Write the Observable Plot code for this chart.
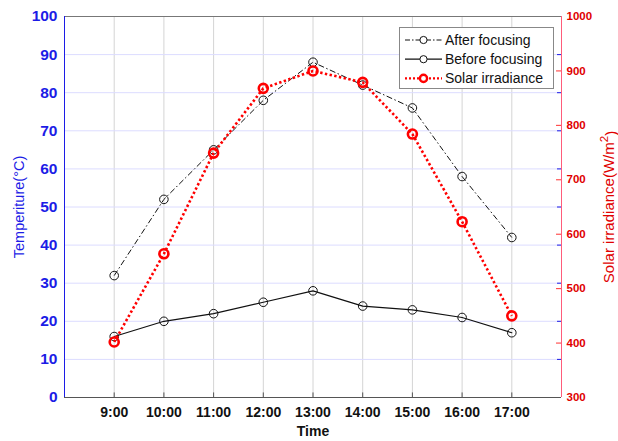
<!DOCTYPE html>
<html><head><meta charset="utf-8">
<script src="https://cdn.jsdelivr.net/npm/d3@7"></script>
<script src="https://cdn.jsdelivr.net/npm/@observablehq/plot@0.6"></script>
<style>
body{margin:0;background:#fff;font-family:"Liberation Sans",Arial,sans-serif}
#wrap{position:relative;width:618px;height:441px}
#legend{position:absolute;left:0;top:0}
</style></head>
<body><div id="wrap"></div>
<script>
const hours = [9, 10, 11, 12, 13, 14, 15, 16, 17];
const timeLabels = ["9:00","10:00","11:00","12:00","13:00","14:00","15:00","16:00","17:00"];
const afterFocusing = [32, 52, 65, 78, 88, 82, 76, 58, 42];
const beforeFocusing = [16, 20, 22, 25, 28, 24, 23, 21, 17];
const solarIrradiance = [402, 564, 749, 868, 900, 879, 784, 623, 450];
const tempTicks = [0,10,20,30,40,50,60,70,80,90,100];
const irrTicks = [300,400,500,600,700,800,900,1000];

const BLUE = "#1c1ce6", RED = "#e00000";
// map irradiance (300..1000) onto the temperature scale (0..100)
const toT = v => (v - 300) / 7;

const after = hours.map((h,i)=>({h, v: afterFocusing[i]}));
const before = hours.map((h,i)=>({h, v: beforeFocusing[i]}));
const solar = hours.map((h,i)=>({h, v: toT(solarIrradiance[i])}));

const chart = Plot.plot({
  width: 618, height: 441,
  marginLeft: 64, marginRight: 57, marginTop: 16, marginBottom: 44,
  style: {fontFamily: '"Liberation Sans", Arial, sans-serif', background: "#fff"},
  x: {domain: [8, 18]},
  y: {domain: [0, 100]},
  marks: [
    Plot.gridX(hours, {stroke: "#d4d4d4", strokeOpacity: 1}),
    Plot.gridY(tempTicks, {stroke: "#dcdcff", strokeOpacity: 1}),
    // frame
    Plot.ruleY([100], {stroke: "#777", strokeWidth: 1}),
    Plot.ruleY([0], {stroke: "#555", strokeWidth: 1}),
    Plot.ruleX([8], {stroke: BLUE, strokeWidth: 1}),
    Plot.ruleX([18], {stroke: "#ff5c7a", strokeWidth: 1}),
    // inward bottom ticks
    Plot.ruleX(hours, {y1: 0, y2: 1.2, stroke: "#555"}),
    // right-side inward ticks
    Plot.ruleY(tempTicks.slice(1,-1), {x1: 17.92, x2: 18, stroke: BLUE}),
    Plot.ruleY(irrTicks.slice(1,-1).map(toT), {x1: 17.9, x2: 18, stroke: "#ff3030"}),
    Plot.axisX(hours, {anchor: "bottom", tickSize: 0, tickPadding: 10, fontSize: 14, fontWeight: "bold", fill: "#111", tickFormat: (d) => timeLabels[hours.indexOf(d)], label: null}),
    Plot.axisY(tempTicks, {anchor: "left", tickSize: 0, tickPadding: 7, fontSize: 15.5, fontWeight: "bold", fill: BLUE, label: null, tickFormat: d => String(d)}),
    Plot.axisY(irrTicks.map(toT), {anchor: "right", tickSize: 0, tickPadding: 5, fontSize: 11.5, fontWeight: "bold", fill: RED, label: null, tickFormat: d => String(Math.round(d*7+300))}),
    Plot.text(["Time"], {frameAnchor: "bottom", dy: 38, fontSize: 14, fontWeight: "bold", fill: "#111"}),
    Plot.text(["Temperiture(°C)"], {frameAnchor: "left", textAnchor: "middle", rotate: -90, dx: -45, dy: 0, fontSize: 14.5, fill: BLUE}),
    Plot.text(["Solar irradiance(W/m2)"], {frameAnchor: "right", textAnchor: "middle", rotate: -90, dx: 48, dy: 0, fontSize: 15, fill: RED, className: "irrlabel"}),
    // series
    Plot.line(after, {x: "h", y: "v", stroke: "#111", strokeWidth: 1, strokeDasharray: "6,2.5,1.5,2.5", strokeLinecap: "butt"}),
    Plot.dot(after, {x: "h", y: "v", r: 4.3, stroke: "#111", strokeWidth: 1, fill: "none"}),
    Plot.line(before, {x: "h", y: "v", stroke: "#111", strokeWidth: 1.2}),
    Plot.dot(before, {x: "h", y: "v", r: 4.3, stroke: "#111", strokeWidth: 1, fill: "none"}),
    Plot.line(solar, {x: "h", y: "v", stroke: "#ff0000", strokeWidth: 2.6, strokeDasharray: "2.4,2.4", strokeLinecap: "butt"}),
    Plot.dot(solar, {x: "h", y: "v", r: 4.5, stroke: "#ff0000", strokeWidth: 2.6, fill: "none"})
  ]
});
const wrap = document.getElementById("wrap");
wrap.appendChild(chart);

// superscript 2 in the right axis label
d3.select(chart).selectAll("text").filter(function(){ return this.textContent === "Solar irradiance(W/m2)"; })
  .each(function(){
    const t = d3.select(this);
    t.text(null);
    t.append("tspan").text("Solar irradiance(W/m");
    t.append("tspan").attr("dy", "-0.55em").attr("font-size", "11.5").text("2");
    t.append("tspan").attr("dy", "0.55em").text(")");
  });

// legend overlay
const legendItems = [
  {label: "After focusing", stroke: "#111", w: 1, dash: "5,2,1.5,2", cw: 1},
  {label: "Before focusing", stroke: "#111", w: 1.2, dash: null, cw: 1},
  {label: "Solar irradiance", stroke: "#ff0000", w: 2.4, dash: "2,2", cw: 2.4}
];
const ns = "http://www.w3.org/2000/svg";
const lg = document.createElementNS(ns, "svg");
lg.setAttribute("id", "legend");
lg.setAttribute("width", 618); lg.setAttribute("height", 441);
lg.style.pointerEvents = "none";
let s = `<rect x="399.5" y="27.5" width="154" height="61" fill="#fff" stroke="#888" stroke-width="1"/>`;
legendItems.forEach((it, i) => {
  const y = 40 + i * 19.2;
  s += `<line x1="405" x2="442" y1="${y}" y2="${y}" stroke="${it.stroke}" stroke-width="${it.w}" ${it.dash ? `stroke-dasharray="${it.dash}"` : ""}/>`;
  s += `<circle cx="423.5" cy="${y}" r="3.6" fill="#fff" stroke="${it.stroke}" stroke-width="${it.cw}"/>`;
  s += `<text x="445" y="${y}" dy="0.36em" font-size="14" fill="#111" font-family='"Liberation Sans", Arial, sans-serif'>${it.label}</text>`;
});
lg.innerHTML = s;
wrap.appendChild(lg);
</script>
</body></html>
